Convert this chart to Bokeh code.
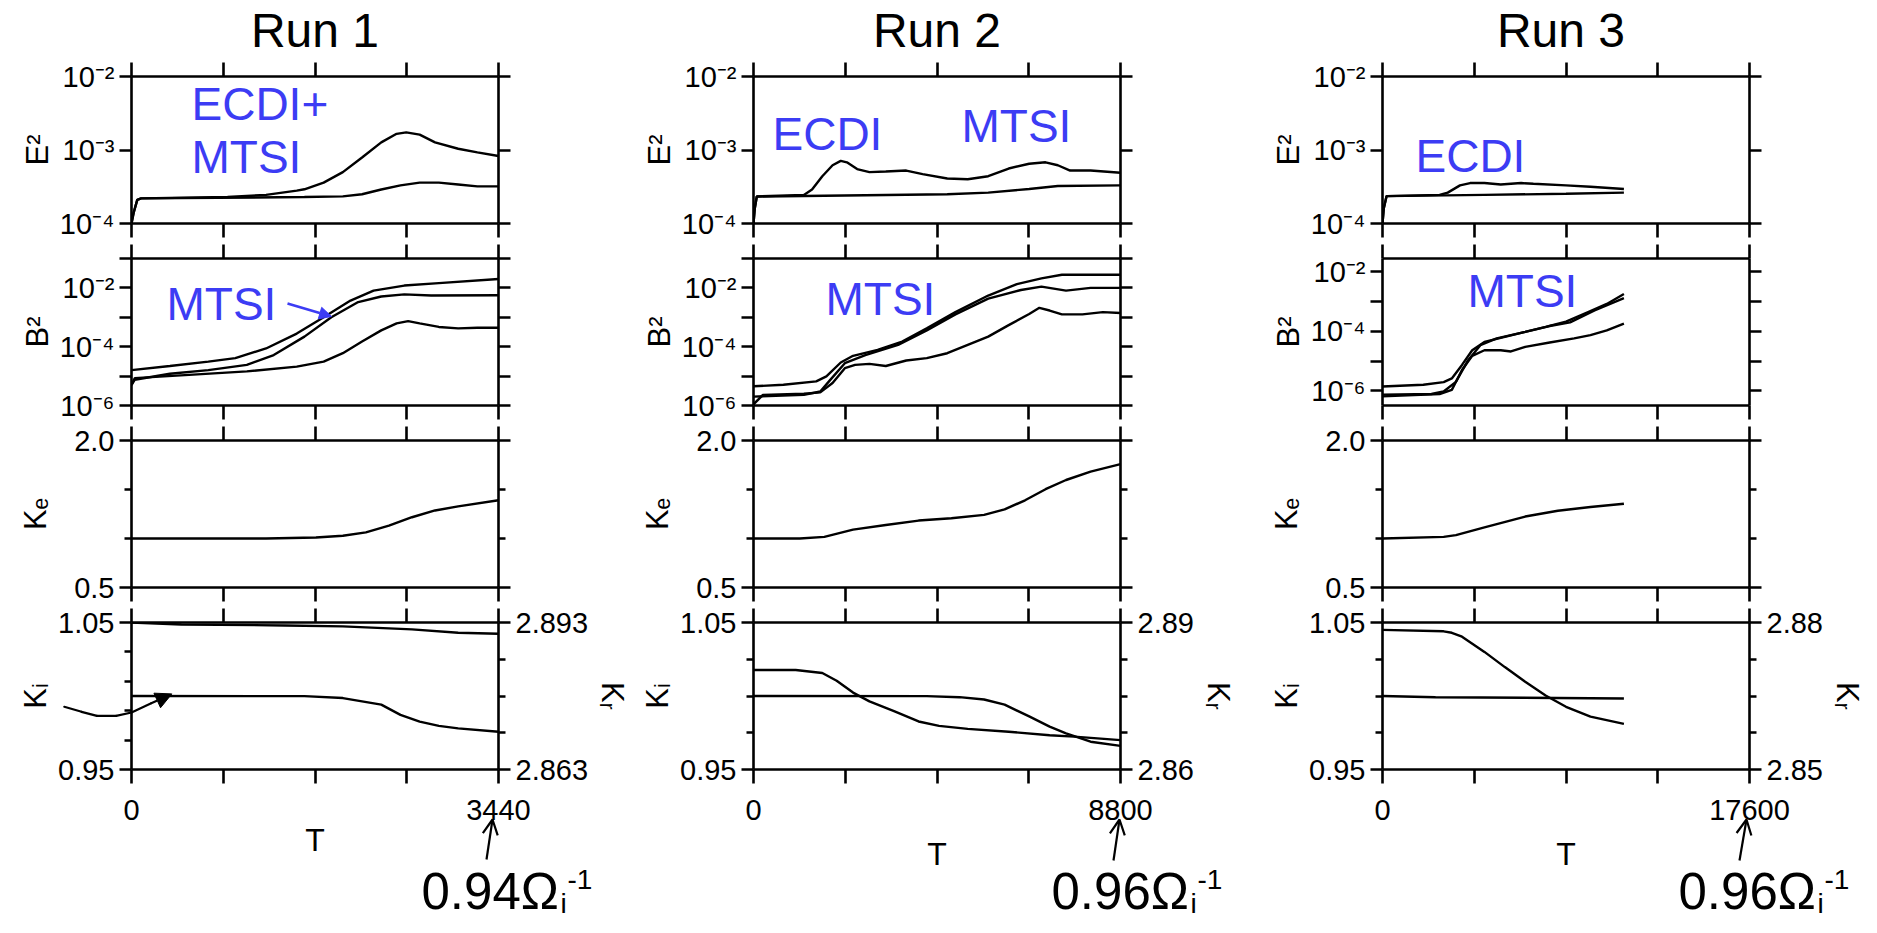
import math
from bokeh.plotting import figure
from bokeh.layouts import row, column
from bokeh.models import (Range1d, LinearAxis, FixedTicker, CustomJSTickFormatter, Label,
                          Arrow, NormalHead, OpenHead, Grid)
from bokeh.embed import file_html
from bokeh.resources import INLINE

FONT = "Liberation Sans"
BLUE = "#3c3cf4"
FW, FH = 367, 147

# ---------------- data ----------------
RUN_TITLES = ["Run 1", "Run 2", "Run 3"]
T_MAX = [3440, 8800, 17600]
PERIOD_TEXT = ["0.94\u03a9", "0.96\u03a9", "0.96\u03a9"]
E2_RANGE = (1e-4, 1e-2)
B2_RANGES = [(1e-6, 1e-1), (1e-6, 1e-1), (3.2e-7, 2.8e-2)]
KE_RANGE = (0.5, 2.0)
KI_RANGE = (0.95, 1.05)
KR_RANGES = [(2.863, 2.893), (2.86, 2.89), (2.85, 2.88)]
KR_LABELS = [("2.863", "2.893"), ("2.86", "2.89"), ("2.85", "2.88")]
KI_MINOR = [[0.97, 0.99, 1.01, 1.03], [0.975, 1.0, 1.025], [0.975, 1.0, 1.025]]

# Run 1
R1_E2_T_UP = [0, 20, 54, 90, 900, 1261, 1549, 1621, 1801, 1981, 2161, 2341, 2485, 2575, 2701, 2845, 3062, 3242, 3440]
R1_E2_UP = [1.0e-4, 1.4e-4, 2.1e-4, 2.2e-4, 2.29e-4, 2.45e-4, 2.8e-4, 2.92e-4, 3.6e-4, 5.0e-4, 7.9e-4, 1.27e-3, 1.66e-3, 1.74e-3, 1.62e-3, 1.27e-3, 1.04e-3, 9.3e-4, 8.3e-4]
R1_E2_T_LO = [0, 20, 54, 90, 1621, 1981, 2161, 2341, 2521, 2701, 2881, 3062, 3242, 3440]
R1_E2_LO = [1.0e-4, 1.4e-4, 2.1e-4, 2.2e-4, 2.29e-4, 2.34e-4, 2.5e-4, 2.9e-4, 3.3e-4, 3.6e-4, 3.6e-4, 3.4e-4, 3.2e-4, 3.2e-4]
R1_B2_T_A = [0, 360, 720, 973, 1261, 1549, 1801, 2053, 2269, 2557, 2881, 3440]
R1_B2_A = [1.6e-5, 2.2e-5, 3.1e-5, 4.1e-5, 8.7e-5, 2.8e-4, 1.0e-3, 3.7e-3, 8.1e-3, 1.2e-2, 1.45e-2, 2.0e-2]
R1_B2_T_B = [0, 30, 360, 720, 1081, 1333, 1621, 1873, 2125, 2341, 2557, 2809, 3440]
R1_B2_B = [5.0e-6, 7.5e-6, 1.2e-5, 1.6e-5, 2.4e-5, 5.2e-5, 2.2e-4, 1.0e-3, 3.3e-3, 5.1e-3, 6.0e-3, 5.5e-3, 5.6e-3]
R1_B2_T_C = [0, 30, 540, 1081, 1549, 1801, 1981, 2161, 2341, 2485, 2593, 2701, 2881, 3062, 3242, 3440]
R1_B2_C = [5.0e-6, 8.5e-6, 1.1e-5, 1.45e-5, 2.1e-5, 3.1e-5, 6.0e-5, 1.5e-4, 3.6e-4, 6.2e-4, 7.4e-4, 6.2e-4, 4.7e-4, 4.2e-4, 4.4e-4, 4.4e-4]
R1_KE_T = [0, 1261, 1729, 1981, 2197, 2413, 2629, 2845, 3062, 3440]
R1_KE = [1.0, 1.0, 1.01, 1.028, 1.062, 1.131, 1.217, 1.286, 1.328, 1.39]
R1_KI_T = [0, 1621, 1981, 2341, 2521, 2701, 2881, 3062, 3440]
R1_KI = [1.0, 0.9999, 0.9986, 0.9941, 0.9872, 0.9826, 0.9797, 0.9780, 0.9757]
R1_KR_T = [0, 468, 1441, 1981, 2629, 3062, 3440]
R1_KR = [2.893, 2.8926, 2.8924, 2.8922, 2.8916, 2.8909, 2.8907]

# Run 2
R2_E2_T_UP = [0, 30, 79, 1208, 1404, 1650, 1896, 2092, 2239, 2485, 2780, 3172, 3663, 4056, 4646, 5137, 5628, 6119, 6610, 7003, 7297, 7592, 8083, 8800]
R2_E2_UP = [1.0e-4, 1.6e-4, 2.33e-4, 2.45e-4, 2.9e-4, 4.4e-4, 6.2e-4, 7.1e-4, 6.8e-4, 5.5e-4, 5.0e-4, 5.1e-4, 5.25e-4, 4.7e-4, 4.1e-4, 4.0e-4, 4.4e-4, 5.6e-4, 6.5e-4, 6.8e-4, 6.2e-4, 5.25e-4, 5.25e-4, 4.9e-4]
R2_E2_T_LO = [0, 30, 79, 2190, 4646, 5628, 6610, 7297, 8800]
R2_E2_LO = [1.0e-4, 1.6e-4, 2.33e-4, 2.4e-4, 2.5e-4, 2.63e-4, 2.95e-4, 3.24e-4, 3.3e-4]
R2_B2_T_A = [0, 717, 1503, 1748, 2092, 2387, 2976, 3565, 4154, 4842, 5628, 6315, 6904, 7395, 8800]
R2_B2_A = [4.5e-6, 5.1e-6, 6.6e-6, 9.8e-6, 2.9e-5, 4.9e-5, 7.8e-5, 1.5e-4, 4.2e-4, 1.5e-3, 5.5e-3, 1.35e-2, 2.1e-2, 2.8e-2, 2.8e-2]
R2_B2_T_B = [0, 1208, 1601, 1846, 2190, 2681, 3467, 4154, 4842, 5628, 6413, 6904, 7494, 8083, 8800]
R2_B2_B = [2.0e-6, 2.3e-6, 3.0e-6, 7.6e-6, 2.75e-5, 5.2e-5, 1.15e-4, 3.6e-4, 1.26e-3, 4.3e-3, 8.5e-3, 1.1e-2, 8.1e-3, 1.0e-2, 1.0e-2]
R2_B2_T_C = [0, 226, 1208, 1601, 1896, 2190, 2436, 2780, 3172, 3663, 4154, 4646, 5137, 5628, 6119, 6610, 6855, 7101, 7395, 7887, 8378, 8800]
R2_B2_C = [1.1e-6, 2.3e-6, 2.5e-6, 2.8e-6, 5.8e-6, 1.86e-5, 2.4e-5, 2.6e-5, 2.2e-5, 3.4e-5, 4.1e-5, 6.0e-5, 1.15e-4, 2.2e-4, 5.4e-4, 1.3e-3, 2.1e-3, 1.7e-3, 1.26e-3, 1.26e-3, 1.5e-3, 1.4e-3]
R2_KE_T = [0, 1110, 1699, 2387, 3172, 3958, 4744, 5529, 6021, 6512, 7003, 7494, 8083, 8800]
R2_KE = [1.0, 1.0, 1.017, 1.09, 1.138, 1.183, 1.207, 1.241, 1.297, 1.39, 1.503, 1.597, 1.683, 1.759]
R2_KI_T = [0, 4154, 4940, 5529, 6021, 6610, 7101, 7494, 8083, 8800]
R2_KI = [1.0, 0.9999, 0.9992, 0.9976, 0.9941, 0.9861, 0.9792, 0.9746, 0.9689, 0.9661]
R2_KR_T = [0, 1012, 1650, 1994, 2387, 2780, 3369, 3958, 4449, 5137, 6119, 7101, 7690, 8800]
R2_KR = [2.8803, 2.8803, 2.8797, 2.8781, 2.8757, 2.8739, 2.8719, 2.8698, 2.8689, 2.8683, 2.8677, 2.8670, 2.8667, 2.8660]

# Run 3
R3_E2_T_UP = [0, 60, 196, 2738, 3129, 3716, 4204, 4889, 5671, 6649, 7236, 8800, 9973, 11577]
R3_E2_UP = [1.0e-4, 1.6e-4, 2.36e-4, 2.45e-4, 2.63e-4, 3.3e-4, 3.55e-4, 3.55e-4, 3.4e-4, 3.55e-4, 3.47e-4, 3.3e-4, 3.16e-4, 2.95e-4]
R3_E2_T_LO = [0, 60, 196, 4889, 8800, 11577]
R3_E2_LO = [1.0e-4, 1.6e-4, 2.36e-4, 2.45e-4, 2.54e-4, 2.63e-4]
R3_B2_T_A = [0, 1956, 2933, 3324, 3813, 4302, 4889, 5867, 6844, 7822, 8800, 9778, 10756, 11577]
R3_B2_A = [1.4e-6, 1.6e-6, 1.95e-6, 2.6e-6, 7.4e-6, 2.3e-5, 4.4e-5, 6.5e-5, 9.5e-5, 1.4e-4, 2.1e-4, 4.2e-4, 8.3e-4, 1.8e-3]
R3_B2_T_B = [0, 2347, 2933, 3520, 4107, 4693, 5476, 6844, 8018, 8996, 10169, 11577]
R3_B2_B = [7.4e-7, 7.8e-7, 9.5e-7, 2.0e-6, 1.07e-5, 3.4e-5, 5.8e-5, 9.5e-5, 1.5e-4, 2.0e-4, 5.0e-4, 1.3e-3]
R3_B2_T_C = [0, 2738, 3324, 3813, 4302, 4889, 5671, 6160, 6844, 8018, 9191, 9973, 10756, 11577]
R3_B2_C = [6.5e-7, 7.8e-7, 1.07e-6, 5.0e-6, 1.5e-5, 2.3e-5, 2.3e-5, 2.1e-5, 3.0e-5, 4.2e-5, 5.8e-5, 7.4e-5, 1.07e-4, 1.8e-4]
R3_KE_T = [0, 2933, 3520, 4889, 6844, 8409, 9973, 11577]
R3_KE = [1.0, 1.017, 1.034, 1.114, 1.224, 1.283, 1.321, 1.355]
R3_KI_T = [0, 2542, 11577]
R3_KI = [1.0, 0.9992, 0.9983]
R3_KR_T = [0, 2933, 3324, 3813, 4889, 5867, 6844, 7822, 8800, 9973, 11577]
R3_KR = [2.8785, 2.8782, 2.8779, 2.8771, 2.8740, 2.8709, 2.8679, 2.8651, 2.8628, 2.8608, 2.8593]

E2_SERIES = [[(R1_E2_T_UP, R1_E2_UP), (R1_E2_T_LO, R1_E2_LO)],
             [(R2_E2_T_UP, R2_E2_UP), (R2_E2_T_LO, R2_E2_LO)],
             [(R3_E2_T_UP, R3_E2_UP), (R3_E2_T_LO, R3_E2_LO)]]
B2_SERIES = [[(R1_B2_T_A, R1_B2_A), (R1_B2_T_B, R1_B2_B), (R1_B2_T_C, R1_B2_C)],
             [(R2_B2_T_A, R2_B2_A), (R2_B2_T_B, R2_B2_B), (R2_B2_T_C, R2_B2_C)],
             [(R3_B2_T_A, R3_B2_A), (R3_B2_T_B, R3_B2_B), (R3_B2_T_C, R3_B2_C)]]
KE_SERIES = [(R1_KE_T, R1_KE), (R2_KE_T, R2_KE), (R3_KE_T, R3_KE)]
KI_SERIES = [(R1_KI_T, R1_KI), (R2_KI_T, R2_KI), (R3_KI_T, R3_KI)]
KR_SERIES = [(R1_KR_T, R1_KR), (R2_KR_T, R2_KR), (R3_KR_T, R3_KR)]

# pointer in run 1 (T, Ki) path, ending with the arrow head
R1_POINTER_T = [-630, -468, -324, -144, 0, 180, 378]
R1_POINTER_KI = [0.9872, 0.9838, 0.9810, 0.9810, 0.9833, 0.9895, 0.9960]

# annotation texts (text, px from frame left, baseline px from frame top)
E2_NOTES = [[("ECDI+", 60, 44), ("MTSI", 60, 97)], [("ECDI", 19, 74), ("MTSI", 208, 66)], [("ECDI", 33, 96)]]
B2_NOTES = [[("MTSI", 35, 62)], [("MTSI", 72, 57)], [("MTSI", 85, 49)]]

# ---------------- layout constants ----------------
COL_X0 = [131, 753, 1382]
ROW_Y0 = [76, 258, 440, 622]
PAGE_W, PAGE_H = 1869, 932
LB = [131, 119, 137]
RB = [136, 127, 120]
RB_KI = [136, 190, 120]
TOPB = [76, 18, 18, 18]
BOTB = [17, 17, 17, 155]
COL3_SHIFT = -65
TITLE_DX = [0, 0, -5]
T_STANDOFF = [-1, 13, 13]
PERIOD_LEFT = [421, 1051, 1678]
PTR_TIP = [(-6, 58), (-1, 58), (-3, 58)]
PTR_TAIL = [(-12, 98), (-7, 99), (-10, 99)]
MID = 0.35  # offset of a text line's middle above its baseline, in em


def xpx(p, dx):
    r = p.x_range
    return r.start + dx * (r.end - r.start) / FW


def ypx(p, dy, log=False):
    r = p.y_range
    if log:
        lo, hi = math.log10(r.start), math.log10(r.end)
        return 10 ** (hi - dy * (hi - lo) / FH)
    return r.end - dy * (r.end - r.start) / FH


def fmt_none():
    return CustomJSTickFormatter(code="return '';")


def fmt_map(vals, labs):
    return CustomJSTickFormatter(args=dict(vals=list(vals), labs=list(labs)), code="""
for (let i = 0; i < vals.length; i++) {
  if (Math.abs(vals[i] - tick) <= 1e-9 * Math.max(1, Math.abs(tick))) return labs[i];
}
return '';
""")


def fmt_pow(show):
    return CustomJSTickFormatter(args=dict(show=list(show)), code="""
const e = Math.round(Math.log10(tick));
if (!show.includes(e)) return '';
const m = {'-': '\u207b', '0': '\u2070', '1': '\u00b9', '2': '\u00b2', '3': '\u00b3', '4': '\u2074', '5': '\u2075', '6': '\u2076'};
return '10' + String(e).split('').map(c => m[c]).join('');
""")


def style_axis(ax, major_out, minor_out, labels=True):
    ax.axis_line_width = 2.6
    ax.axis_line_color = "black"
    ax.major_tick_line_width = 2.6
    ax.major_tick_line_color = "black"
    ax.minor_tick_line_width = 2.6
    ax.minor_tick_line_color = "black"
    ax.major_tick_in = 0
    ax.major_tick_out = major_out
    ax.minor_tick_in = 0
    ax.minor_tick_out = minor_out
    ax.major_label_text_font = FONT
    ax.major_label_text_color = "black"
    ax.axis_label_text_font = FONT
    ax.axis_label_text_font_style = "normal"
    ax.axis_label_text_font_size = "31px"
    ax.axis_label_text_color = "black"
    if labels:
        ax.major_label_text_font_size = "29px"
        ax.major_label_standoff = 5
    else:
        ax.major_label_text_font_size = "0px"
        ax.major_label_standoff = 0


def base_fig(c, r, yr, log):
    kw = dict(frame_width=FW, frame_height=FH, x_range=Range1d(0, T_MAX[c]), y_range=Range1d(*yr),
              x_axis_location=None, y_axis_location=None, toolbar_location=None,
              output_backend="svg", min_border_left=LB[c],
              min_border_right=(RB_KI if r == 3 else RB)[c],
              min_border_top=TOPB[r], min_border_bottom=BOTB[r],
              outline_line_color=None, background_fill_color=None, border_fill_color=None)
    if log:
        kw["y_axis_type"] = "log"
    p = figure(**kw)
    p.center = [m for m in p.center if not isinstance(m, Grid)]
    return p


def add_x_axes(p, c, bottom_labels):
    xmax = T_MAX[c]
    ticks = [0, xmax / 4, xmax / 2, 3 * xmax / 4, xmax]
    top = LinearAxis(ticker=FixedTicker(ticks=ticks), formatter=fmt_none())
    style_axis(top, 14, 0, labels=False)
    p.add_layout(top, "above")
    if bottom_labels:
        bot = LinearAxis(ticker=FixedTicker(ticks=ticks), formatter=fmt_map([0, xmax], ["0", str(xmax)]))
        style_axis(bot, 14, 0, labels=True)
        bot.major_label_standoff = 16
        bot.axis_label = "T"
        bot.axis_label_text_font_size = "32px"
        bot.axis_label_standoff = T_STANDOFF[c]
    else:
        bot = LinearAxis(ticker=FixedTicker(ticks=ticks), formatter=fmt_none())
        style_axis(bot, 14, 0, labels=False)
    p.add_layout(bot, "below")


def add_y_axes(p, ticks, minor, fmt, label, label_standoff=2):
    left = LinearAxis(ticker=FixedTicker(ticks=ticks, minor_ticks=minor), formatter=fmt)
    style_axis(left, 12, 7, labels=True)
    left.axis_label = label
    left.axis_label_standoff = label_standoff
    p.add_layout(left, "left")
    right = LinearAxis(ticker=FixedTicker(ticks=ticks, minor_ticks=minor), formatter=fmt_none())
    style_axis(right, 12, 7, labels=False)
    p.add_layout(right, "right")


def blue_label(p, text, dx, dy, log):
    p.add_layout(Label(x=xpx(p, dx), y=ypx(p, dy - MID * 46, log=log), text=text, text_font=FONT,
                       text_font_size="46px", text_color=BLUE, text_align="left",
                       text_baseline="middle"))


# ---------- overlay (texts and arrows that sit outside the plot frames) ----------
overlay = figure(frame_width=PAGE_W, frame_height=PAGE_H, x_range=Range1d(0, PAGE_W),
                 y_range=Range1d(PAGE_H, 0), x_axis_location=None, y_axis_location=None,
                 toolbar_location=None, output_backend="svg", min_border=0,
                 outline_line_color=None, background_fill_color=None, border_fill_color=None)
overlay.center = [m for m in overlay.center if not isinstance(m, Grid)]


def ov_text(x, baseline, text, size, align="left"):
    overlay.add_layout(Label(x=x, y=baseline - MID * size, text=text, text_font=FONT,
                             text_font_size=f"{size}px", text_color="black", text_align=align,
                             text_baseline="middle"))


columns = []
for c in range(3):
    xmax = T_MAX[c]
    fr_left, fr_right = COL_X0[c], COL_X0[c] + FW
    ki_bottom = ROW_Y0[3] + FH

    # ---- E^2 ----
    pe = base_fig(c, 0, E2_RANGE, True)
    add_x_axes(pe, c, False)
    add_y_axes(pe, [1e-4, 1e-3, 1e-2], [], fmt_pow([-4, -3, -2]), "E\u00b2")
    for t, v in E2_SERIES[c]:
        pe.line(t, v, line_color="black", line_width=2.4)
    for txt, dx, dy in E2_NOTES[c]:
        blue_label(pe, txt, dx, dy, True)

    # ---- B^2 ----
    pb = base_fig(c, 1, B2_RANGES[c], True)
    add_x_axes(pb, c, False)
    add_y_axes(pb, [1e-6, 1e-5, 1e-4, 1e-3, 1e-2, 1e-1], [], fmt_pow([-6, -4, -2]), "B\u00b2")
    for t, v in B2_SERIES[c]:
        pb.line(t, v, line_color="black", line_width=2.4)
    for txt, dx, dy in B2_NOTES[c]:
        blue_label(pb, txt, dx, dy, True)
    if c == 0:
        pb.add_layout(Arrow(end=NormalHead(size=12, fill_color=BLUE, line_color=BLUE),
                            x_start=xpx(pb, 156), y_start=ypx(pb, 45, log=True),
                            x_end=xpx(pb, 200), y_end=ypx(pb, 58, log=True),
                            line_color=BLUE, line_width=2.5))

    # ---- K_e ----
    pk = base_fig(c, 2, KE_RANGE, False)
    add_x_axes(pk, c, False)
    add_y_axes(pk, [0.5, 2.0], [1.0, 1.5], fmt_map([0.5, 2.0], ["0.5", "2.0"]), "K\u2091",
               label_standoff=18)
    t, v = KE_SERIES[c]
    pk.line(t, v, line_color="black", line_width=2.4)

    # ---- K_i / K_r ----
    pi = base_fig(c, 3, KI_RANGE, False)
    lo, hi = KR_RANGES[c]
    pi.extra_y_ranges = {"kr": Range1d(lo, hi)}
    add_x_axes(pi, c, True)
    left = LinearAxis(ticker=FixedTicker(ticks=[0.95, 1.05], minor_ticks=KI_MINOR[c]),
                      formatter=fmt_map([0.95, 1.05], ["0.95", "1.05"]))
    style_axis(left, 12, 7, labels=True)
    left.axis_label = "K\u1d62"
    left.axis_label_standoff = 2
    pi.add_layout(left, "left")
    right = LinearAxis(y_range_name="kr",
                       ticker=FixedTicker(ticks=[lo, hi], minor_ticks=[lo + (hi - lo) * k / 4 for k in (1, 2, 3)]),
                       formatter=fmt_map([lo, hi], list(KR_LABELS[c])))
    style_axis(right, 12, 7, labels=True)
    right.axis_label = "K\u1d63"
    right.axis_label_standoff = 4
    pi.add_layout(right, "right")
    t, v = KI_SERIES[c]
    pi.line(t, v, line_color="black", line_width=2.4)
    t, v = KR_SERIES[c]
    pi.line(t, v, line_color="black", line_width=2.4, y_range_name="kr")

    # ---- overlay items for this run ----
    ov_text(fr_left + FW / 2 + TITLE_DX[c], 55, RUN_TITLES[c], 48, align="center")
    (tx, ty), (sx, sy) = PTR_TIP[c], PTR_TAIL[c]
    overlay.add_layout(Arrow(end=OpenHead(size=15, line_width=2.2, line_color="black"),
                             x_start=fr_right + sx, y_start=ki_bottom + sy,
                             x_end=fr_right + tx, y_end=ki_bottom + ty,
                             line_color="black", line_width=2.2))
    pl = PERIOD_LEFT[c]
    ov_text(pl, 917, PERIOD_TEXT[c], 51)
    ov_text(pl + 139, 921, "i", 28)
    ov_text(pl + 146, 897, "-1", 28)

    columns.append(column(pe, pb, pk, pi))

# run 1 pointer towards the K_i curve
px = [COL_X0[0] + t / T_MAX[0] * FW for t in R1_POINTER_T]
py = [ROW_Y0[3] + (KI_RANGE[1] - k) / (KI_RANGE[1] - KI_RANGE[0]) * FH for k in R1_POINTER_KI]
for i in range(len(px) - 2):
    overlay.add_layout(Arrow(end=None, x_start=px[i], y_start=py[i], x_end=px[i + 1], y_end=py[i + 1],
                             line_color="black", line_width=2.2, line_cap="round"))
overlay.add_layout(Arrow(end=NormalHead(size=16, fill_color="black", line_color="black"),
                         x_start=px[-2], y_start=py[-2], x_end=px[-1], y_end=py[-1],
                         line_color="black", line_width=2.2))

columns[2].margin = (0, 0, 0, COL3_SHIFT)
grid = row(*columns)
overlay.margin = (-PAGE_H, 0, 0, 0)
layout = column(grid, overlay)

open("out.html", "w", encoding="utf-8").write(file_html(layout, INLINE))
